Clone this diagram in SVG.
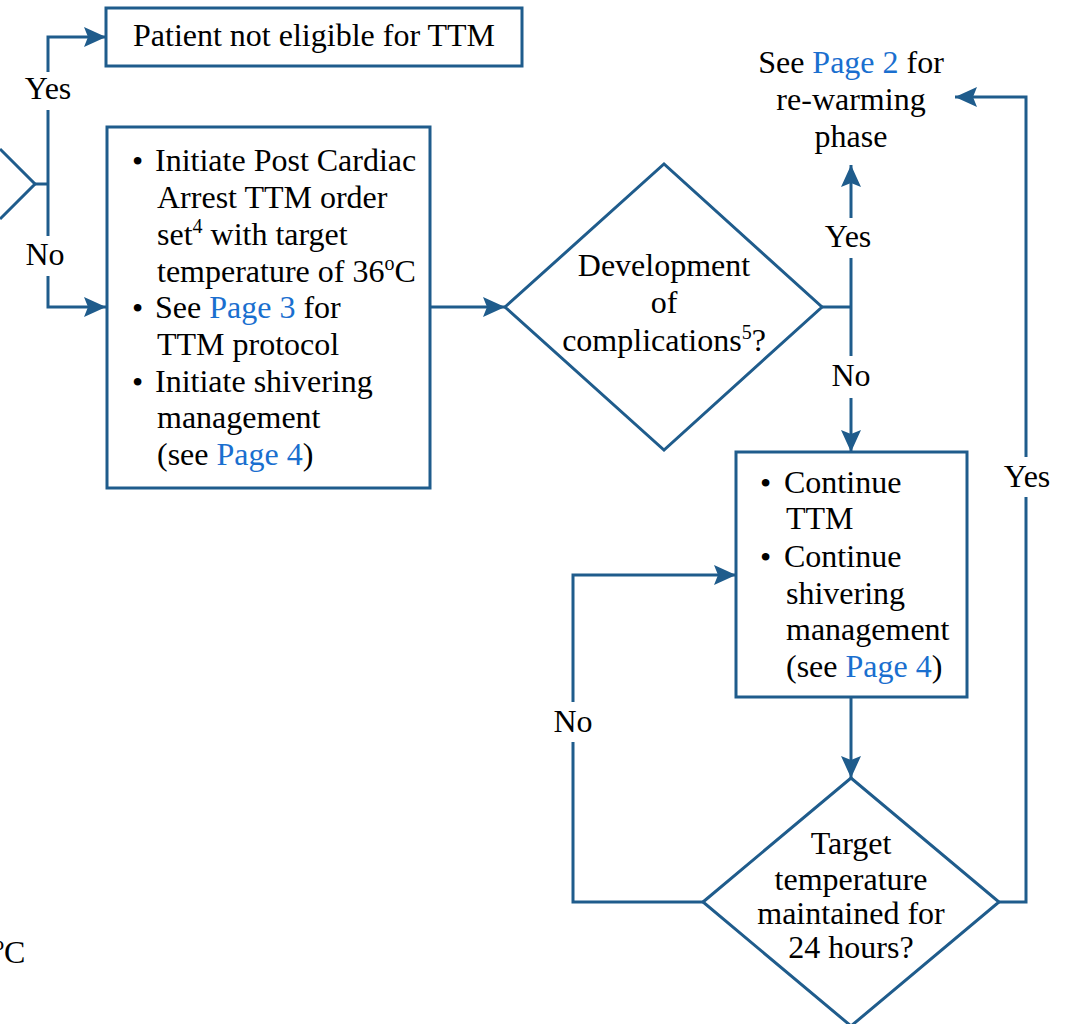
<svg xmlns="http://www.w3.org/2000/svg" width="1073" height="1024" viewBox="0 0 1073 1024">
<style>
.shape{fill:#fff;stroke:#1f5c8c;stroke-width:3}
.ln{fill:none;stroke:#1f5c8c;stroke-width:3}
text{font-family:"Liberation Serif","Times New Roman",serif;font-size:32px;fill:#000}
.c{text-anchor:middle}
.lk{fill:#1a6fcf}
</style>
<defs>
<marker id="ah" viewBox="0 0 22 20" refX="22" refY="10" markerWidth="22" markerHeight="20" markerUnits="userSpaceOnUse" orient="auto">
<path d="M0,0 L22,10 L0,20 L4,10 z" fill="#1f5c8c"/>
</marker>
</defs>
<rect width="1073" height="1024" fill="#fff"/>

<g id="connectors">
<polyline class="ln" points="35,184 48,184"/>
<polyline class="ln" points="48,184 48,110"/>
<polyline class="ln" points="48,72 48,37 106,37" marker-end="url(#ah)"/>
<polyline class="ln" points="48,184 48,236"/>
<polyline class="ln" points="48,276 48,307 106,307" marker-end="url(#ah)"/>
<polyline class="ln" points="430,307 505,307" marker-end="url(#ah)"/>
<polyline class="ln" points="822,307 851,307"/>
<polyline class="ln" points="851,307 851,258"/>
<polyline class="ln" points="851,218 851,165" marker-end="url(#ah)"/>
<polyline class="ln" points="851,307 851,356"/>
<polyline class="ln" points="851,398 851,452" marker-end="url(#ah)"/>
<polyline class="ln" points="851,697 851,778" marker-end="url(#ah)"/>
<polyline class="ln" points="703,902 573,902 573,742"/>
<polyline class="ln" points="573,702 573,575 736,575" marker-end="url(#ah)"/>
<polyline class="ln" points="999,902 1026,902 1026,497"/>
<polyline class="ln" points="1026,457 1026,97 955,97" marker-end="url(#ah)"/>
<text class="c" x="48" y="99">Yes</text>
<text class="c" x="45" y="265">No</text>
<text class="c" x="848" y="247">Yes</text>
<text class="c" x="851" y="386">No</text>
<text class="c" x="573" y="732">No</text>
<text class="c" x="1027" y="487">Yes</text>
</g>

<g id="prev-decision">
<polyline class="ln" points="0,149 35,184 0,219"/>
</g>

<g id="not-eligible">
<rect class="shape" x="106" y="8" width="416" height="58"/>
<text class="c" x="314" y="46">Patient not eligible for TTM</text>
</g>

<g id="initiate">
<rect class="shape" x="107" y="127" width="323" height="361"/>
<text x="132" y="172">•</text>
<text x="155" y="171">Initiate Post Cardiac</text>
<text x="157" y="208">Arrest TTM order</text>
<text x="157" y="245">set<tspan dy="-12" font-size="20">4</tspan><tspan dy="12"> with target</tspan></text>
<text x="157" y="282">temperature of 36<tspan dy="-12" font-size="20">o</tspan><tspan dy="12">C</tspan></text>
<text x="132" y="319">•</text>
<text x="155" y="318">See <tspan class="lk">Page 3</tspan> for</text>
<text x="157" y="355">TTM protocol</text>
<text x="132" y="393">•</text>
<text x="155" y="392">Initiate shivering</text>
<text x="157" y="428">management</text>
<text x="157" y="465">(see <tspan class="lk">Page 4</tspan>)</text>
</g>

<g id="complications">
<polygon class="shape" points="505,307 664,164 822,307 664,450"/>
<text class="c" x="664" y="276">Development</text>
<text class="c" x="664" y="313">of</text>
<text class="c" x="664" y="351">complications<tspan dy="-12" font-size="20">5</tspan><tspan dy="12">?</tspan></text>
</g>

<g id="rewarming">
<text class="c" x="851" y="73">See <tspan class="lk">Page 2</tspan> for</text>
<text class="c" x="851" y="110">re-warming</text>
<text class="c" x="851" y="147">phase</text>
</g>

<g id="continue">
<rect class="shape" x="736" y="452" width="231" height="245"/>
<text x="760" y="494">•</text>
<text x="784" y="493">Continue</text>
<text x="786" y="529">TTM</text>
<text x="760" y="568">•</text>
<text x="784" y="567">Continue</text>
<text x="786" y="604">shivering</text>
<text x="786" y="640">management</text>
<text x="786" y="677">(see <tspan class="lk">Page 4</tspan>)</text>
</g>

<g id="target">
<polygon class="shape" points="703,902 851,778 999,902 851,1026"/>
<text class="c" x="851" y="854">Target</text>
<text class="c" x="851" y="890">temperature</text>
<text class="c" x="851" y="924">maintained for</text>
<text class="c" x="851" y="958">24 hours?</text>
</g>

<g id="footnote-fragment">
<text x="-6" y="963" font-size="24">º<tspan>C</tspan></text>
</g>
</svg>
